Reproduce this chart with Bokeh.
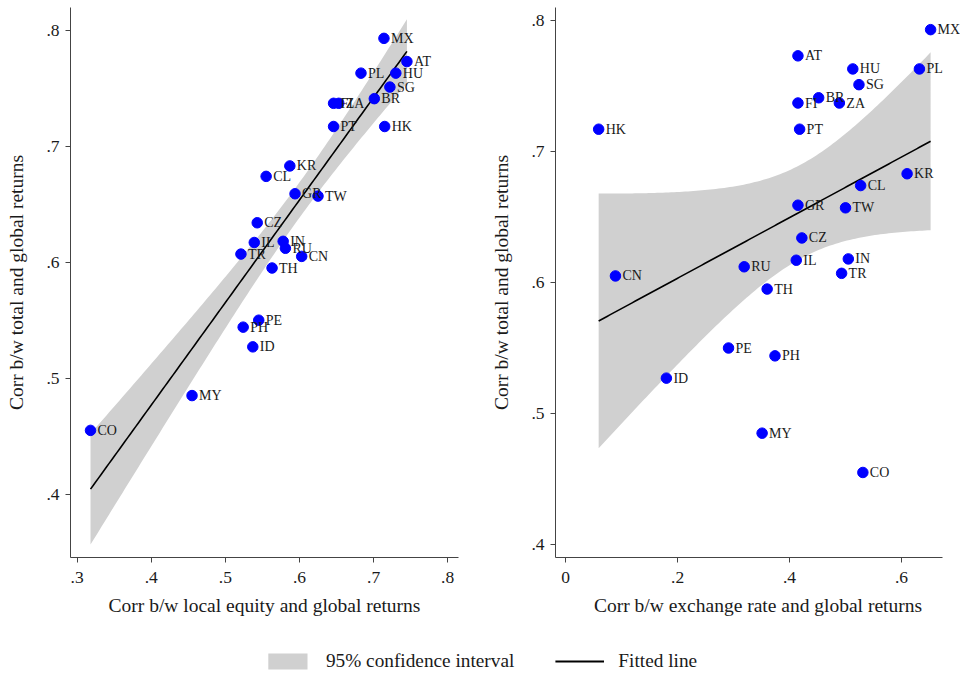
import numpy as np
from bokeh.plotting import figure
from bokeh.models import (Range1d, FixedTicker, CustomJSTickFormatter, ColumnDataSource,
                          Legend, LegendItem, LabelSet)
from bokeh.layouts import column, row
from bokeh.embed import file_html
from bokeh.resources import INLINE

# ---------------- data ----------------
countries = ["MX", "AT", "PL", "HU", "SG", "BR", "FI", "ZA", "PT", "HK", "KR", "CL", "GR",
             "TW", "CZ", "IL", "IN", "RU", "TR", "CN", "TH", "PE", "PH", "ID", "MY", "CO"]
corr_total = [0.793, 0.773, 0.763, 0.763, 0.751, 0.741, 0.737, 0.737, 0.717, 0.717, 0.683,
              0.674, 0.659, 0.657, 0.634, 0.617, 0.618, 0.612, 0.607, 0.605, 0.595, 0.550,
              0.544, 0.527, 0.485, 0.455]
corr_local = [0.714, 0.745, 0.683, 0.730, 0.722, 0.701, 0.646, 0.653, 0.646, 0.715, 0.587,
              0.555, 0.594, 0.625, 0.543, 0.539, 0.578, 0.581, 0.521, 0.603, 0.563, 0.545,
              0.524, 0.537, 0.455, 0.318]
corr_fx = [0.652, 0.415, 0.632, 0.513, 0.524, 0.452, 0.415, 0.489, 0.418, 0.059, 0.610,
           0.527, 0.415, 0.500, 0.422, 0.412, 0.505, 0.319, 0.493, 0.089, 0.360, 0.291,
           0.374, 0.180, 0.351, 0.531]

left_xticks = [0.3, 0.4, 0.5, 0.6, 0.7, 0.8]
left_yticks = [0.4, 0.5, 0.6, 0.7, 0.8]
right_xticks = [0.0, 0.2, 0.4, 0.6]
right_yticks = [0.4, 0.5, 0.6, 0.7, 0.8]

T_CRIT = 2.064  # t(0.975, 24)

FONT = "Liberation Serif"
TXT = "#1a1a1a"
fmt = CustomJSTickFormatter(code="""
if (Math.abs(tick) < 1e-9) { return '0'; }
return tick.toFixed(1).replace('0.', '.');
""")


def fit_ci(x, y):
    x = np.asarray(x); y = np.asarray(y)
    n = len(x)
    b, a = np.polyfit(x, y, 1)
    resid = y - (a + b * x)
    s = np.sqrt(np.sum(resid ** 2) / (n - 2))
    xbar = x.mean()
    sxx = np.sum((x - xbar) ** 2)
    xg = np.linspace(x.min(), x.max(), 120)
    yg = a + b * xg
    se = s * np.sqrt(1.0 / n + (xg - xbar) ** 2 / sxx)
    return xg, yg, yg - T_CRIT * se, yg + T_CRIT * se


def panel(xvals, xr, xbounds, yr, xticks, yticks, xlabel, width, mbl, mbr):
    p = figure(width=width, height=623, x_range=Range1d(*xr), y_range=Range1d(*yr),
               output_backend="svg", toolbar_location=None,
               min_border_left=mbl, min_border_right=mbr, min_border_top=7,
               min_border_bottom=66)
    p.outline_line_color = None
    p.grid.visible = False
    p.background_fill_color = "white"
    xg, yg, lo, hi = fit_ci(xvals, corr_total)
    p.varea(x=xg, y1=lo, y2=hi, fill_color="#d0d0d0", fill_alpha=1.0)
    p.line(x=xg, y=yg, line_color="black", line_width=1.6)
    src = ColumnDataSource(dict(x=xvals, y=corr_total, lab=countries))
    p.scatter("x", "y", source=src, size=10.5, fill_color="#0000ff", line_color="#0000ff")
    labels = LabelSet(x="x", y="y", text="lab", source=src, x_offset=7,
                      text_baseline="middle", text_font=FONT, text_font_size="14px",
                      text_color=TXT)
    p.add_layout(labels)
    for ax, ticks in ((p.xaxis, xticks), (p.yaxis, yticks)):
        ax.ticker = FixedTicker(ticks=ticks)
        ax.formatter = fmt
        ax.minor_tick_line_color = None
        ax.major_tick_out = 5
        ax.major_tick_in = 0
        ax.axis_line_color = "#444444"
        ax.major_tick_line_color = "#444444"
        ax.major_label_text_font = FONT
        ax.major_label_text_font_size = "17.5px"
        ax.major_label_text_color = TXT
        ax.axis_label_text_font = FONT
        ax.axis_label_text_font_size = "19.5px"
        ax.axis_label_text_font_style = "normal"
        ax.axis_label_text_color = TXT
    p.xaxis.bounds = xbounds
    p.xaxis.axis_label = xlabel
    p.yaxis.axis_label = "Corr b/w total and global returns"
    p.xaxis.major_label_standoff = 9
    p.xaxis.axis_label_standoff = 9
    p.yaxis.major_label_standoff = 6
    p.yaxis.axis_label_standoff = 16
    p.yaxis.major_label_orientation = "horizontal"
    return p


p1 = panel(corr_local, (0.2910, 0.8146), (0.2910, 0.8146), (0.3454, 0.8196),
           left_xticks, left_yticks, "Corr b/w local equity and global returns", 488, 70, 30)
p2 = panel(corr_fx, (-0.0181, 0.7054), (-0.0181, 0.6737), (0.3901, 0.8099),
           right_xticks, right_yticks, "Corr b/w exchange rate and global returns", 472, 60, 0)

# legend strip
lf = figure(width=960, height=49, output_backend="svg", toolbar_location=None,
            x_axis_type=None, y_axis_type=None, min_border=0,
            x_range=Range1d(0, 1), y_range=Range1d(0, 1))
lf.outline_line_color = None
lf.grid.visible = False
nan = [float("nan")]
r1 = lf.varea(x=nan, y1=nan, y2=nan, fill_color="#d0d0d0")
r2 = lf.line(x=nan, y=nan, line_color="black", line_width=2)
leg = Legend(items=[LegendItem(label="95% confidence interval", renderers=[r1]),
                    LegendItem(label="Fitted line", renderers=[r2])],
             orientation="horizontal", location="bottom_center", glyph_width=49,
             glyph_height=20, label_standoff=14, spacing=41, padding=0, margin=0,
             label_text_font=FONT, label_text_font_size="19.3px", label_text_color=TXT,
             border_line_color=None, background_fill_alpha=0)
lf.add_layout(leg)

layout = column(row(p1, p2), lf)
open("out.html", "w").write(file_html(layout, INLINE))
